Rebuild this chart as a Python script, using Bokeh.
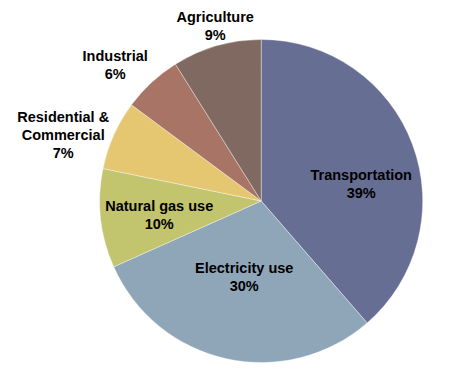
import numpy as np
from bokeh.plotting import figure
from bokeh.models import Range1d, ColumnDataSource
from bokeh.core.properties import value
from bokeh.embed import file_html
from bokeh.resources import INLINE

# ---- data ----
categories = ["Transportation", "Electricity use", "Natural gas use",
              "Residential &\nCommercial", "Industrial", "Agriculture"]
shares = [39, 30, 10, 7, 6, 9]
pct_labels = ["39%", "30%", "10%", "7%", "6%", "9%"]

# ---- style / layout ----
colors = ["#666E94", "#8FA6B9", "#C2C46E", "#E6C771", "#A87466", "#806960"]
# label block centre offsets from pie centre (pixels, y up)
label_dx = [100, -17, -102, -198, -146, -46]
label_dy = [17, -76, -14, 66, 136, 175]

W, H = 436, 365
ox, oy = 0, 0                  # page offset of the figure
cx, cy = 260.7, 200.5          # pie centre in window pixel coords
R = 161.5

vals = np.array(shares, dtype=float)
frac = vals / vals.sum()
cum = np.concatenate([[0], np.cumsum(frac)])
start = np.pi / 2 - 2 * np.pi * cum[:-1]
end = np.pi / 2 - 2 * np.pi * cum[1:]

src = ColumnDataSource(dict(start=start, end=end, color=colors))

p = figure(width=W, height=H, output_backend="svg", toolbar_location=None,
           x_range=Range1d(ox - cx, ox + W - cx),
           y_range=Range1d(cy - oy - H, cy - oy),
           min_border=0, border_fill_color="white", background_fill_color="white")
p.axis.visible = False
p.grid.visible = False
p.outline_line_color = None

p.wedge(x=0, y=0, radius=R, start_angle="start", end_angle="end",
        direction="clock", fill_color="color", line_color="white",
        line_width=0.6, line_alpha=0.6, source=src)

texts = [c + "\n" + t for c, t in zip(categories, pct_labels)]
lsrc = ColumnDataSource(dict(x=label_dx, y=label_dy, text=texts))
p.text(x="x", y="y", text="text", source=lsrc, text_align="center",
       text_baseline="middle", text_font=value("Liberation Sans"),
       text_font_style="bold", text_font_size="14.5px", text_color="black",
       text_line_height=1.1)

open("out.html", "w").write(file_html(p, INLINE))
